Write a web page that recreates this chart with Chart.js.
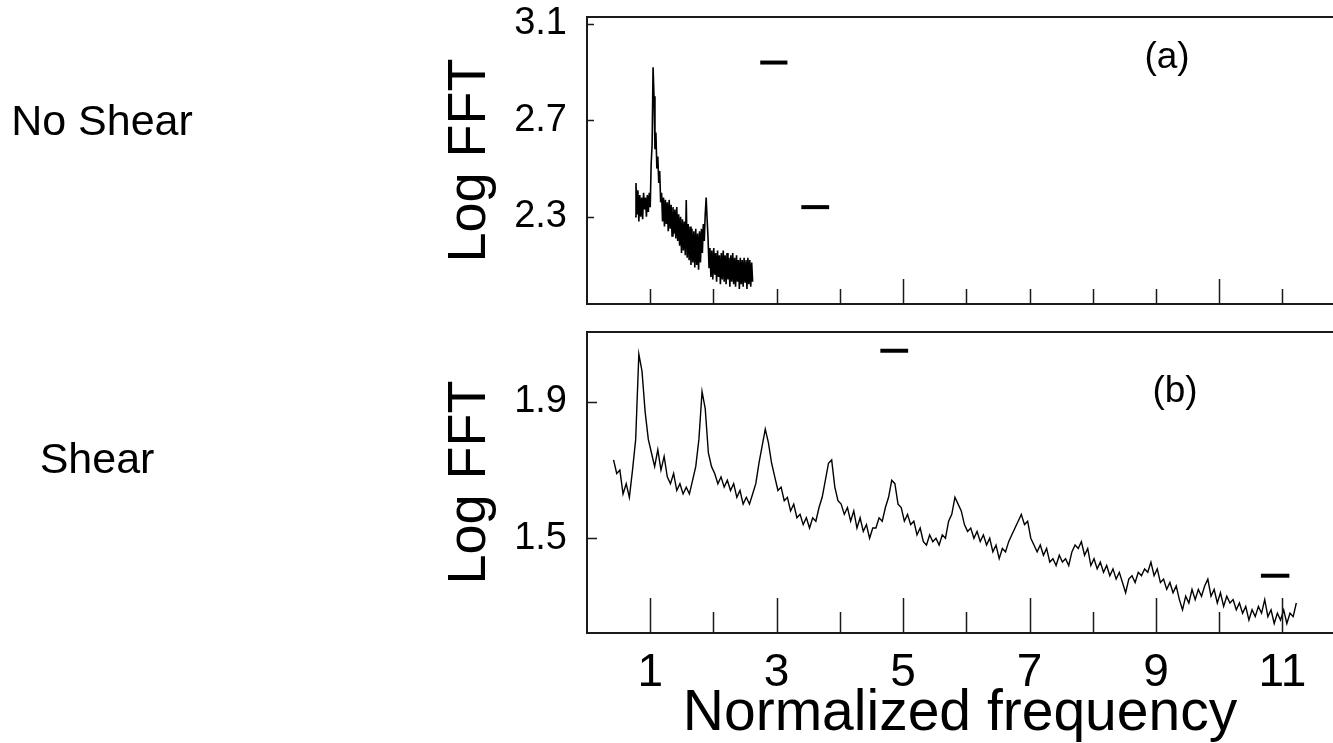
<!DOCTYPE html>
<html>
<head>
<meta charset="utf-8">
<script src="https://cdn.jsdelivr.net/npm/chart.js@4.4.1/dist/chart.umd.min.js"></script>
<style>
  html, body { margin: 0; padding: 0; background: #fff; overflow: hidden; }
  #wrap { position: relative; width: 1333px; height: 743px; }
  #topBox { position: absolute; left: 0; top: 0; width: 1333px; height: 310px; }
  #botBox { position: absolute; left: 0; top: 320px; width: 1333px; height: 423px; }
</style>
</head>
<body>
<div id="wrap">
  <div id="topBox"><canvas id="topChart"></canvas></div>
  <div id="botBox"><canvas id="botChart"></canvas></div>
</div>
<script>
const FONT = '"Liberation Sans", Arial, Helvetica, sans-serif';

const noShearStart = 0.76;
const noShearStep = 0.015;
const noShearLogFFT = [
  2.30, 2.44, 2.31, 2.41, 2.28, 2.39, 2.30, 2.38, 2.29, 2.40, 2.33, 2.38, 2.30, 2.39, 2.32, 2.40, 2.34,
  2.52, 2.60, 2.92, 2.80, 2.58, 2.65, 2.50, 2.55, 2.44, 2.49, 2.36,
  2.40, 2.28, 2.38, 2.26, 2.37, 2.27, 2.36, 2.24, 2.37, 2.25, 2.35, 2.22, 2.34, 2.23, 2.33, 2.21, 2.34, 2.20, 2.31, 2.18,
  2.30, 2.15, 2.29, 2.16, 2.28, 2.14, 2.37, 2.13, 2.27, 2.12, 2.26, 2.10, 2.25, 2.11, 2.24, 2.09, 2.25, 2.10, 2.23, 2.08,
  2.24, 2.11, 2.25, 2.15, 2.27, 2.20, 2.31, 2.38, 2.29, 2.21,
  2.09, 2.17, 2.05, 2.16, 2.04, 2.17, 2.06, 2.15, 2.03, 2.16, 2.05, 2.14, 2.02, 2.15, 2.04, 2.16, 2.03, 2.14, 2.02, 2.15,
  2.04, 2.13, 2.01, 2.14, 2.03, 2.15, 2.02, 2.13, 2.01, 2.14, 2.03, 2.12, 2.00, 2.13, 2.02, 2.12, 2.01, 2.13, 2.03, 2.12,
  2.00, 2.13, 2.02, 2.12, 2.01, 2.11, 2.03
];

// (b) shear: log FFT sampled every 0.05 from 0.42
const shearStart = 0.42;
const shearStep = 0.05;
const shearLogFFT = [
  1.73, 1.69, 1.70, 1.63, 1.66, 1.62, 1.70, 1.79, 2.04, 1.99, 1.87, 1.79, 1.75, 1.71, 1.76, 1.70, 1.74, 1.68, 1.66, 1.69,
  1.64, 1.66, 1.63, 1.65, 1.63, 1.67, 1.71, 1.79, 1.93, 1.88, 1.75, 1.71, 1.69, 1.66, 1.68, 1.65, 1.67, 1.64, 1.66, 1.62,
  1.64, 1.60, 1.62, 1.60, 1.63, 1.66, 1.72, 1.77, 1.82, 1.78, 1.72, 1.68, 1.64, 1.65, 1.61, 1.62, 1.58, 1.60, 1.56, 1.57,
  1.54, 1.56, 1.53, 1.56, 1.55, 1.59, 1.62, 1.67, 1.72, 1.73, 1.65, 1.61, 1.60, 1.57, 1.59, 1.55, 1.58, 1.53, 1.56, 1.52,
  1.54, 1.50, 1.53, 1.53, 1.56, 1.55, 1.59, 1.62, 1.67, 1.66, 1.60, 1.59, 1.55, 1.57, 1.54, 1.55, 1.51, 1.53, 1.49, 1.48,
  1.51, 1.49, 1.50, 1.48, 1.51, 1.50, 1.55, 1.57, 1.62, 1.60, 1.58, 1.54, 1.52, 1.53, 1.50, 1.52, 1.49, 1.51, 1.48, 1.50,
  1.46, 1.48, 1.44, 1.47, 1.46, 1.49, 1.51, 1.53, 1.55, 1.57, 1.54, 1.55, 1.50, 1.48, 1.46, 1.48, 1.45, 1.47, 1.43, 1.44,
  1.42, 1.45, 1.43, 1.44, 1.42, 1.46, 1.48, 1.47, 1.49, 1.45, 1.47, 1.42, 1.44, 1.41, 1.43, 1.40, 1.42, 1.39, 1.41, 1.38,
  1.40, 1.37, 1.34, 1.38, 1.39, 1.37, 1.40, 1.39, 1.41, 1.40, 1.43, 1.39, 1.41, 1.37, 1.38, 1.35, 1.37, 1.34, 1.36, 1.32,
  1.29, 1.33, 1.31, 1.35, 1.32, 1.35, 1.33, 1.36, 1.38, 1.33, 1.35, 1.31, 1.34, 1.30, 1.33, 1.31, 1.32, 1.29, 1.31, 1.28,
  1.30, 1.26, 1.29, 1.27, 1.30, 1.28, 1.32, 1.27, 1.29, 1.25, 1.28, 1.26, 1.29, 1.25, 1.28, 1.27, 1.31
];

// short black bars in each panel (data units)
const noShearBars = [
  { x0: 2.74, x1: 3.17, y: 2.94 },
  { x0: 3.39, x1: 3.83, y: 2.34 }
];
const shearBars = [
  { x0: 4.64, x1: 5.08, y: 2.05 },
  { x0: 10.66, x1: 11.11, y: 1.39 }
];

const xTickLabels = [1, 3, 5, 7, 9, 11];
const xTickMarks = [1, 2, 3, 4, 5, 6, 7, 8, 9, 10, 11];
const noShearLongTicks = [5, 10];
const shearLongTicks = [1, 3, 5, 7, 9, 11];
const noShearYTicks = [2.3, 2.7, 3.1];
const shearYTicks = [1.5, 1.9];

const toPoints = (start, step, vals) => vals.map((v, i) => ({ x: +(start + i * step).toFixed(3), y: v }));

const framePlugin = {
  id: 'frame',
  afterDraw(chart, args, o) {
    const { ctx, chartArea: { left, top, right, bottom }, scales: { x, y } } = chart;
    ctx.save();
    ctx.strokeStyle = '#1a1a1a';
    ctx.lineWidth = 2;
    ctx.beginPath();
    ctx.moveTo(right, top);
    ctx.lineTo(left, top);
    ctx.lineTo(left, bottom);
    ctx.lineTo(right, bottom);
    ctx.stroke();

    ctx.lineWidth = 1.5;
    ctx.beginPath();
    o.xMarks.forEach(v => {
      const px = Math.round(x.getPixelForValue(v)) + 0.5;
      const len = o.longX.includes(v) ? o.longLen : o.shortLen;
      ctx.moveTo(px, bottom);
      ctx.lineTo(px, bottom - len);
    });
    o.yMarks.forEach(v => {
      const py = Math.round(y.getPixelForValue(v)) + 0.5;
      ctx.moveTo(left, py);
      ctx.lineTo(left + o.yLen, py);
    });
    ctx.stroke();

    ctx.fillStyle = '#000';
    ctx.textBaseline = 'alphabetic';
    ctx.textAlign = 'center';
    o.texts.forEach(t => {
      ctx.font = t.size + 'px ' + FONT;
      ctx.fillText(t.text, t.x, t.y);
    });
    ctx.restore();
  }
};

function lineSet(points, width) {
  return {
    data: points,
    borderColor: '#000',
    borderWidth: width,
    pointRadius: 0,
    tension: 0,
    fill: false,
    borderCapStyle: 'butt'
  };
}

function makePanel(id, cfg) {
  const datasets = [lineSet(cfg.points, cfg.lineWidth)];
  cfg.bars.forEach(b => datasets.push(lineSet([{ x: b.x0, y: b.y }, { x: b.x1, y: b.y }], 4)));

  return new Chart(document.getElementById(id), {
    type: 'line',
    data: { datasets },
    plugins: [framePlugin],
    options: {
      responsive: true,
      maintainAspectRatio: false,
      animation: false,
      layout: { padding: cfg.padding },
      plugins: {
        legend: { display: false },
        tooltip: { enabled: false },
        frame: cfg.frame
      },
      scales: {
        x: {
          type: 'linear',
          min: 0,
          max: 11.8,
          display: cfg.showX,
          grid: { display: false },
          border: { display: false },
          ticks: { color: '#000', font: { size: 46, family: FONT }, padding: 5, maxRotation: 0, autoSkip: false },
          title: {
            display: cfg.showX,
            text: 'Normalized frequency',
            color: '#000',
            font: { size: 57, family: FONT, lineHeight: 1.0 },
            padding: 0
          },
          afterBuildTicks: s => { s.ticks = xTickLabels.map(v => ({ value: v })); },
          afterFit: s => {
            if (cfg.showX) s.height = 110;
            s.paddingLeft = 0;
            s.paddingRight = 0;
          }
        },
        y: {
          min: cfg.yMin,
          max: cfg.yMax,
          grid: { display: false },
          border: { display: false },
          ticks: { color: '#000', font: { size: 38, family: FONT }, padding: 12 },
          title: {
            display: true,
            text: 'Log FFT',
            color: '#000',
            font: { size: 54, family: FONT },
            padding: 0
          },
          afterBuildTicks: s => { s.ticks = cfg.yTicks.map(v => ({ value: v })); },
          afterFit: s => {
            s.width = 149;
            s.paddingTop = 0;
            s.paddingBottom = 0;
          }
        }
      }
    }
  });
}

makePanel('topChart', {
  points: toPoints(noShearStart, noShearStep, noShearLogFFT),
  lineWidth: 1.6,
  bars: noShearBars,
  showX: false,
  yMin: 1.938,
  yMax: 3.129,
  yTicks: noShearYTicks,
  padding: { left: 438, top: 17, right: 0, bottom: 6 },
  frame: {
    xMarks: xTickMarks, longX: noShearLongTicks, longLen: 25, shortLen: 15,
    yMarks: noShearYTicks, yLen: 7,
    texts: [
      { text: 'No Shear', x: 102, y: 135, size: 43 },
      { text: '(a)', x: 1167, y: 68, size: 37 }
    ]
  }
});

makePanel('botChart', {
  points: toPoints(shearStart, shearStep, shearLogFFT),
  lineWidth: 1.4,
  bars: shearBars,
  showX: true,
  yMin: 1.222,
  yMax: 2.105,
  yTicks: shearYTicks,
  padding: { left: 438, top: 12, right: 0, bottom: 0 },
  frame: {
    xMarks: xTickMarks, longX: shearLongTicks, longLen: 35, shortLen: 21,
    yMarks: shearYTicks, yLen: 10,
    texts: [
      { text: 'Shear', x: 97, y: 153, size: 43 },
      { text: '(b)', x: 1175, y: 82, size: 37 }
    ]
  }
});
</script>
</body>
</html>
